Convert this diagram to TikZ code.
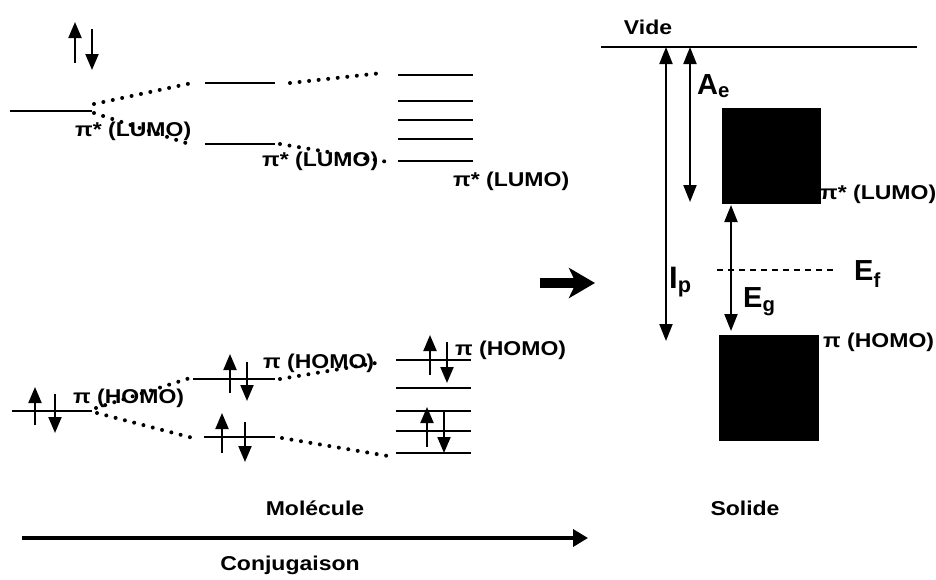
\documentclass[tikz,border=0pt]{standalone}
\usepackage{fontspec}
\usepackage{graphicx}
\setmainfont{Liberation Sans}
\usetikzlibrary{arrows.meta}
\newcommand{\wtxt}[1]{\scalebox{1.15}[1]{#1}}
\begin{document}
\begin{tikzpicture}[x=1pt,y=-1pt,
  lvl/.style={line width=2pt},
  dotc/.style={line width=4pt, line cap=round, dash pattern=on 0pt off 9.6pt},
  spin/.style={line width=2pt,-{Triangle[width=13pt,length=16pt]}},
  dbl/.style={line width=2pt,{Triangle[width=13pt,length=17pt]}-{Triangle[width=13pt,length=17pt]}},
  lab/.style={font=\fontsize{20}{20}\selectfont\bfseries, inner sep=0pt, anchor=west},
  big/.style={font=\fontsize{29}{29}\selectfont\bfseries, inner sep=0pt},
  band/.style={fill=black, draw=black, inner sep=0pt, anchor=north west}]
\useasboundingbox (0,0) rectangle (936,579);

% ---------------- Molecule: LUMO side
\draw[spin] (75,63) -- (75,22);
\draw[spin] (92,29) -- (92,70);

\coordinate (L1a) at (10,111); \coordinate (L1b) at (92,111);
\draw[lvl] (L1a) -- (L1b);
\coordinate (L2a) at (205,83);  \coordinate (L2b) at (275,83);
\coordinate (L3a) at (205,144); \coordinate (L3b) at (275,144);
\draw[lvl] (L2a) -- (L2b);
\draw[lvl] (L3a) -- (L3b);
\foreach \y in {75,101,120,139,161}{
  \draw[lvl] (398,\y) -- (473,\y);
}
\coordinate (L4top) at (382,73);
\coordinate (L4bot) at (388,162);

\draw[dotc] (94,104) -- (192,83);
\draw[dotc] (94,113) -- (192,145);
\draw[dotc] (290,83) -- (L4top);
\draw[dotc] (280,144) -- (L4bot);

\node[lab] (lumo1) at (75,131) {\wtxt{π* (LUMO)}};
\node[lab] (lumo2) at (262,161) {\wtxt{π* (LUMO)}};
\node[lab] (lumo3) at (453,181) {\wtxt{π* (LUMO)}};

% ---------------- Molecule: HOMO side
\coordinate (H1a) at (12,411); \coordinate (H1b) at (92,411);
\draw[lvl] (H1a) -- (H1b);
\draw[spin] (35,425) -- (35,387);
\draw[spin] (55,394) -- (55,433);

\coordinate (H2a) at (193,379); \coordinate (H2b) at (275,379);
\draw[lvl] (H2a) -- (H2b);
\draw[spin] (230,393) -- (230,354);
\draw[spin] (247,362) -- (247,401);

\coordinate (H3a) at (204,437); \coordinate (H3b) at (275,437);
\draw[lvl] (H3a) -- (H3b);
\draw[spin] (222,453) -- (222,413);
\draw[spin] (245,422) -- (245,462);

\foreach \y in {360,388,411,431,453}{
  \draw[lvl] (396,\y) -- (471,\y);
}
\draw[spin] (430,375) -- (430,335);
\draw[spin] (447,342) -- (447,383);
\draw[spin] (427,447) -- (427,407);
\draw[spin] (444,412) -- (444,453);

\draw[dotc] (96,408) -- (190,378);
\draw[dotc] (97,413) -- (193,438);
\draw[dotc] (280,379) -- (382,362);
\draw[dotc] (282,438) -- (394,457);

\node[lab] (homo1) at (73,398) {\wtxt{π (HOMO)}};
\node[lab] (homo2) at (263,363) {\wtxt{π (HOMO)}};
\node[lab] (homo3) at (455,350) {\wtxt{π (HOMO)}};

% ---------------- bottom
\node[lab, anchor=center] (mol) at (315,508) {\wtxt{Molécule}};
\node[lab, anchor=center] (conj) at (290,565) {\wtxt{Conjugaison}};
\coordinate (c1) at (22,538); \coordinate (c2) at (588,538);
\draw[line width=3.5pt,-{Triangle[width=17pt,length=15pt]}] (c1) -- (c2);

% big arrow
\coordinate (b1) at (540,283); \coordinate (b2) at (595,283);
\draw[line width=10pt,-{Stealth[width=30pt,length=26pt,inset=7pt]}] (b1) -- (b2);

% ---------------- Solid
\node[lab, anchor=center] (vide) at (648,27) {\wtxt{Vide}};
\coordinate (v1) at (601,47); \coordinate (v2) at (917,47);
\draw[lvl] (v1) -- (v2);

\node[band, minimum width=98pt, minimum height=95pt] (lband) at (722,108) {};
\node[band, minimum width=99pt, minimum height=105pt] (hband) at (719,335) {};

\draw[dbl] (666,47) -- (666,341);
\draw[dbl] (690,47) -- (690,202);
\draw[dbl] (731,205) -- (731,331);

\draw[line width=2.6pt, dash pattern=on 6pt off 5pt] (717,270) -- (835,270);

\node[big, anchor=west] (Ae) at (697,86) {A\textsubscript{e}};
\node[big, anchor=west, font=\fontsize{31}{31}\selectfont\bfseries] (Ip) at (669,282) {I\textsubscript{p}};
\node[big, anchor=west] (Eg) at (743,302) {E\textsubscript{g}};
\node[big, anchor=west] (Ef) at (854,274) {E\textsubscript{f}};

\node[lab] (lumoS) at (820,194) {\wtxt{π* (LUMO)}};
\node[lab] (homoS) at (823,342) {\wtxt{π (HOMO)}};
\node[lab, anchor=center] (sol) at (745,508) {\wtxt{Solide}};
\end{tikzpicture}
\end{document}
